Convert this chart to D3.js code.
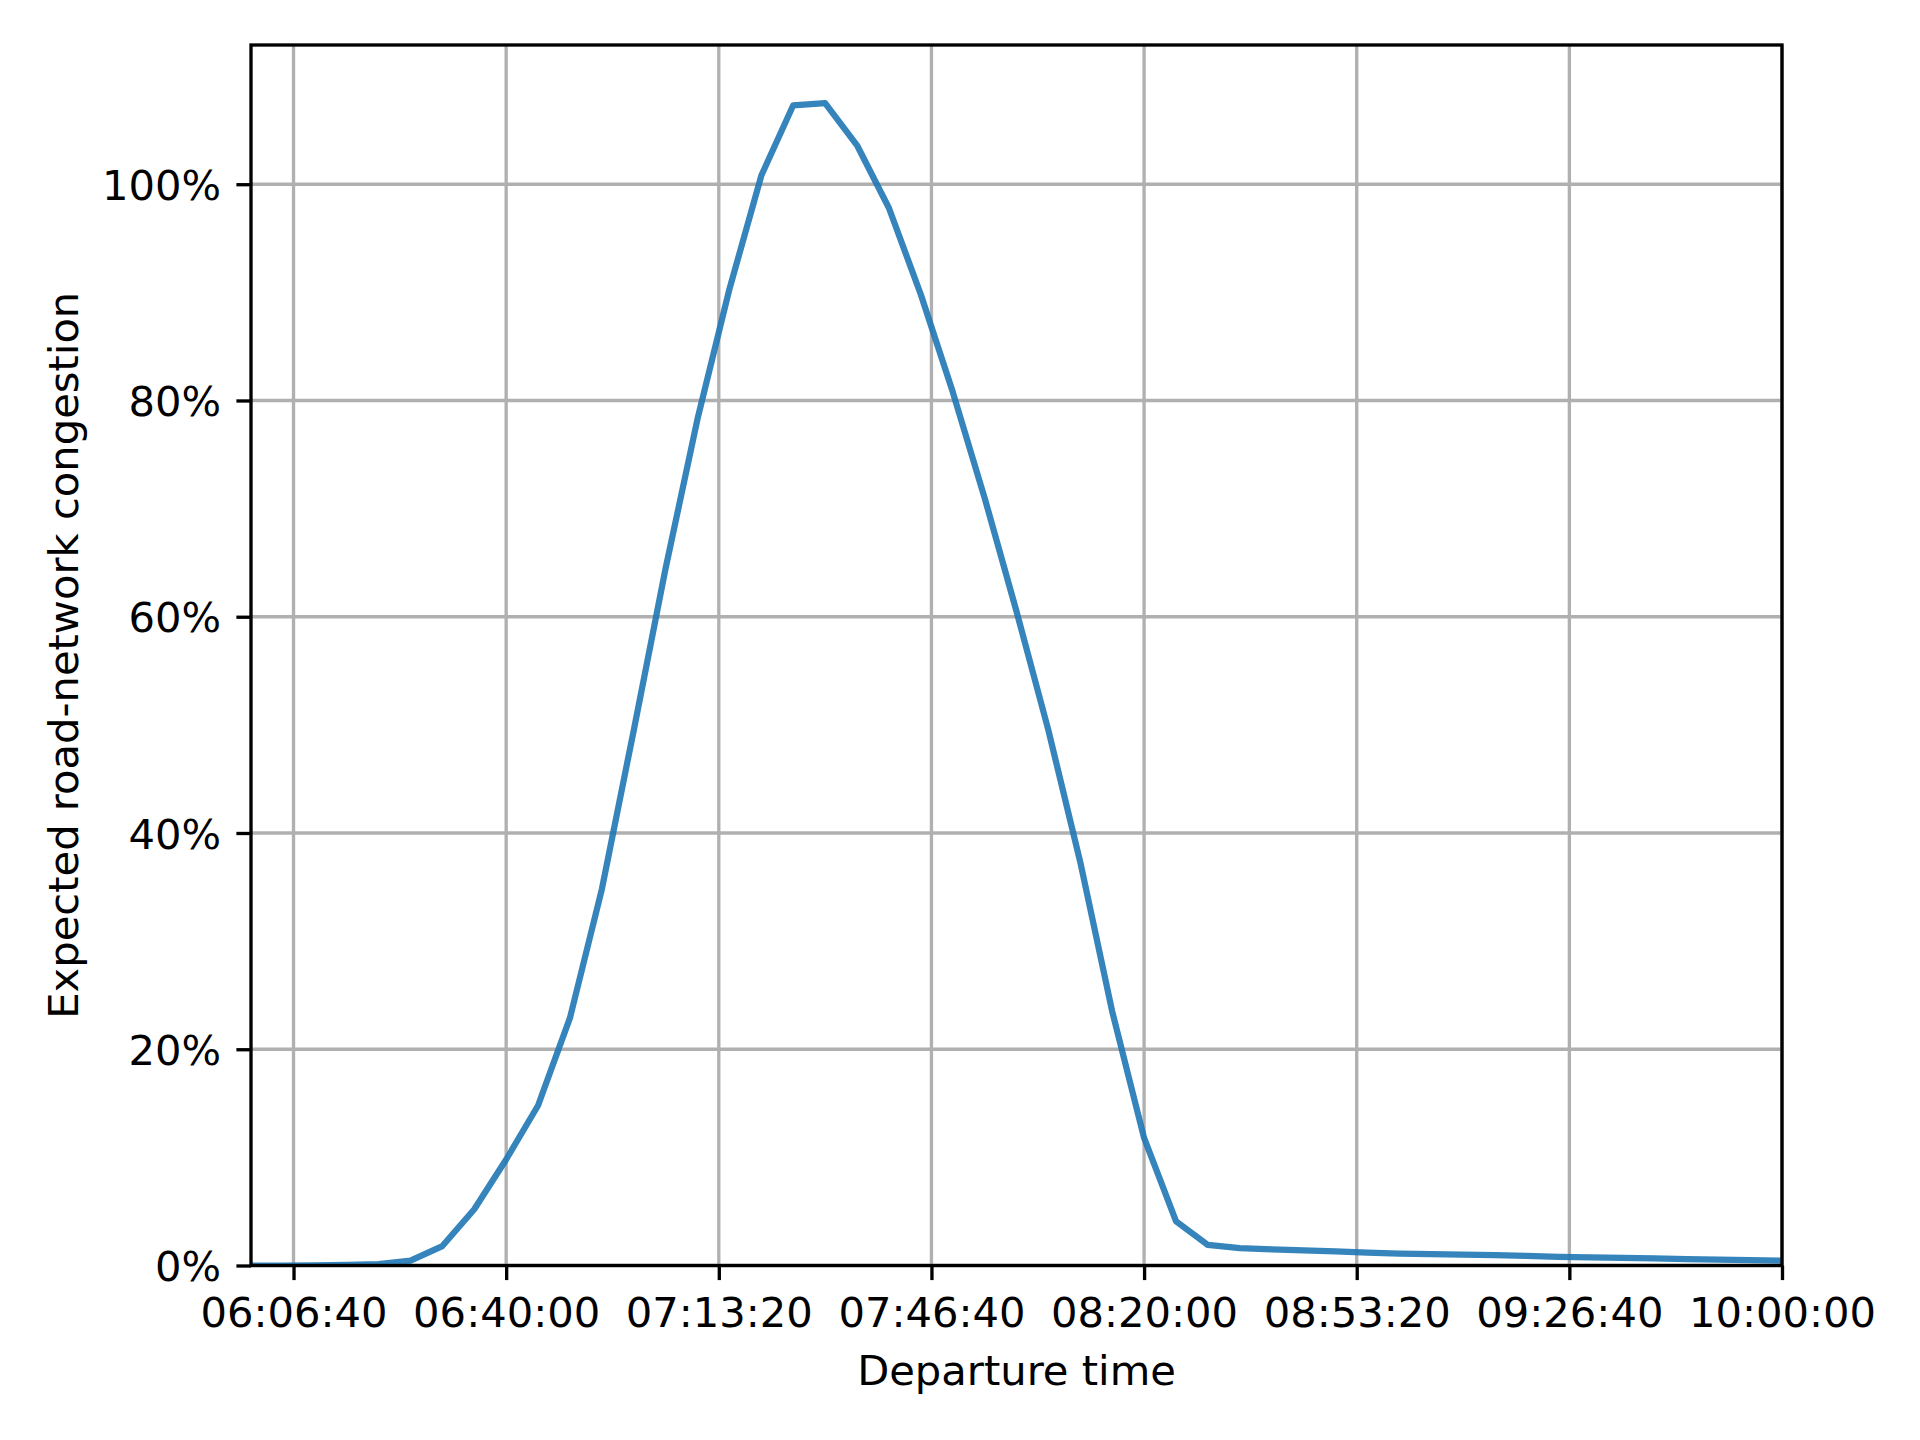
<!DOCTYPE html>
<html>
<head>
<meta charset="utf-8">
<script src="https://cdn.jsdelivr.net/npm/d3@7"></script>
<style>
  body { margin: 0; background: #fff; }
  svg { display: block; }
  text { font-family: "DejaVu Sans", sans-serif; fill: #000; }
</style>
</head>
<body>
<div id="chart"></div>
<script>
// departure times, seconds after midnight (5 min steps 06:00 -> 10:00)
const startSec = 21600;
const stepSec = 300;
// expected congestion in percent
const congestion = [
  0.0, 0.0, 0.02, 0.05, 0.12, 0.45, 1.8, 5.2, 9.8, 14.8, 22.9, 34.8,
  49.5, 64.5, 78.3, 90.3, 100.8, 107.3, 107.5, 103.6, 97.8, 89.8, 80.8, 71.0,
  60.5, 49.5, 37.3, 23.5, 11.8, 4.1, 1.9, 1.6, 1.5, 1.4, 1.3, 1.2,
  1.1, 1.05, 1.0, 0.95, 0.88, 0.8, 0.75, 0.7, 0.65, 0.6, 0.55, 0.5,
  0.45
];
const departure = congestion.map((v, i) => startSec + i * stepSec);
const xTicks = [22000, 24000, 26000, 28000, 30000, 32000, 34000, 36000];
const yTicks = [0, 20, 40, 60, 80, 100];

const W = 1920, H = 1440;
const margin = {top: 45, right: 138, bottom: 174.5, left: 251};
const width = W - margin.left - margin.right,
      height = H - margin.top - margin.bottom;
const fs = 41.67;          // 10pt @ 300dpi
const lw = 3.33;           // 0.8pt

const data = departure.map((t, i) => ({t: t, v: congestion[i]}));

const x = d3.scaleLinear()
    .domain([d3.min(departure), d3.max(departure)])
    .range([0, width]);
const yMax = d3.max(congestion) * 1.05;
const y = d3.scaleLinear().domain([0, yMax]).range([height, 0]);

function hms(s) {
    const h = Math.floor(s / 3600), m = Math.floor((s % 3600) / 60), sec = s % 60;
    return [h, m, sec].map(d => String(d).padStart(2, "0")).join(":");
}

const svg = d3.select("#chart").append("svg")
    .attr("width", W).attr("height", H);

const chart = svg.append("g")
    .attr("transform", "translate(" + margin.left + "," + margin.top + ")");

svg.append("defs").append("clipPath").attr("id", "clip")
  .append("rect").attr("width", width).attr("height", height);

// grid
chart.append("g").selectAll("line.vg")
  .data(xTicks).enter().append("line")
    .attr("x1", d => x(d)).attr("x2", d => x(d))
    .attr("y1", 0).attr("y2", height)
    .attr("stroke", "#b0b0b0").attr("stroke-width", lw);
chart.append("g").selectAll("line.hg")
  .data(yTicks).enter().append("line")
    .attr("x1", 0).attr("x2", width)
    .attr("y1", d => y(d)).attr("y2", d => y(d))
    .attr("stroke", "#b0b0b0").attr("stroke-width", lw);

// the curve
const line = d3.line().x(d => x(d.t)).y(d => y(d.v));
chart.append("path")
    .datum(data)
    .attr("clip-path", "url(#clip)")
    .attr("d", line)
    .attr("fill", "none")
    .attr("stroke", "#1f77b4")
    .attr("stroke-opacity", 0.9)
    .attr("stroke-width", 6.25)
    .attr("stroke-linejoin", "round")
    .attr("stroke-linecap", "square");

// axes
const xAxis = chart.append("g")
    .attr("transform", "translate(0," + height + ")")
    .call(d3.axisBottom(x).tickValues(xTicks).tickFormat(hms)
          .tickSize(14.6).tickPadding(17));
const yAxis = chart.append("g")
    .call(d3.axisLeft(y).tickValues(yTicks).tickFormat(d => d + "%")
          .tickSize(14.6).tickPadding(15.4));

[xAxis, yAxis].forEach(a => {
    a.select(".domain").remove();
    a.selectAll(".tick line").attr("stroke", "#000").attr("stroke-width", lw);
    a.selectAll(".tick text")
        .attr("font-family", "DejaVu Sans")
        .attr("font-size", fs)
        .attr("fill", "#000");
});
yAxis.selectAll(".tick text").attr("dy", "0.365em");

// spines
chart.append("rect")
    .attr("width", width).attr("height", height)
    .attr("fill", "none").attr("stroke", "#000").attr("stroke-width", lw);

// labels
chart.append("text")
    .attr("x", width / 2).attr("y", height + 119.5)
    .attr("text-anchor", "middle")
    .attr("font-size", fs)
    .text("Departure time");

chart.append("text")
    .attr("transform", "translate(" + (78.3 - margin.left) + "," + (height / 2) + ") rotate(-90)")
    .attr("text-anchor", "middle")
    .attr("font-size", fs)
    .text("Expected road-network congestion");
</script>
</body>
</html>
